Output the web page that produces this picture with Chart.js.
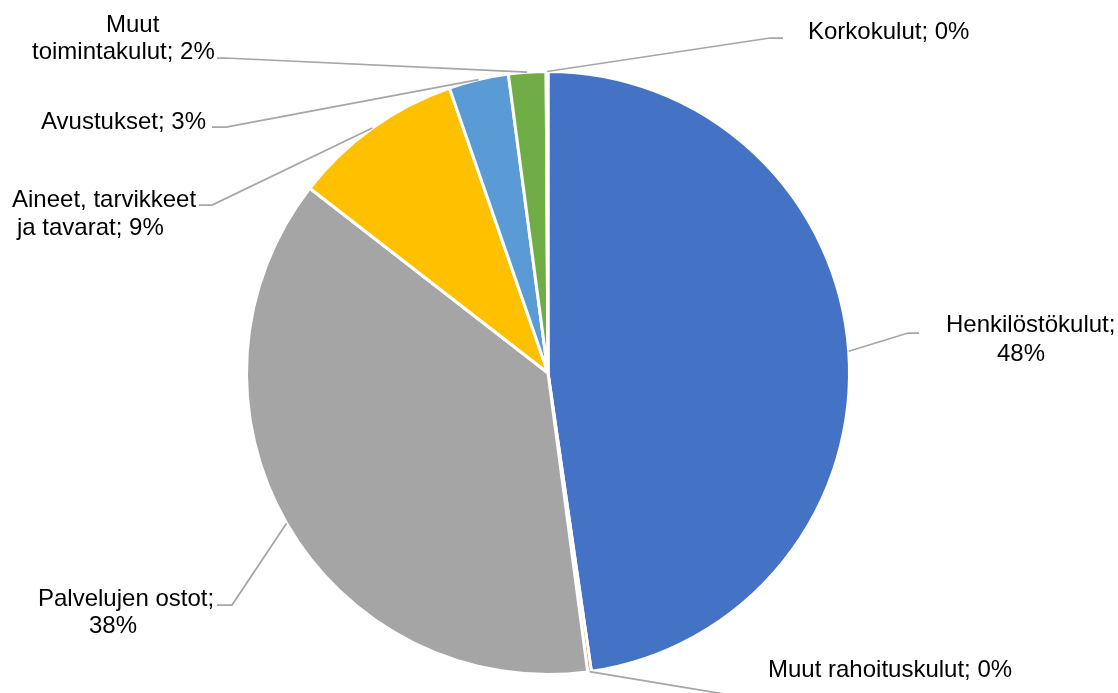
<!DOCTYPE html>
<html>
<head>
<meta charset="utf-8">
<script src="https://cdn.jsdelivr.net/npm/chart.js@4.4.0/dist/chart.umd.min.js"></script>
<style>
  body { margin: 0; background: #fff; }
</style>
</head>
<body>
<canvas id="mycanvas" width="1118" height="693"></canvas>
<script>
// kulut, osuus prosentteina
var categories = ["Henkilöstökulut", "Muut rahoituskulut", "Palvelujen ostot",
  "Aineet, tarvikkeet ja tavarat", "Avustukset", "Muut toimintakulut", "Korkokulut"];
var shares = [47.7, 0.2, 37.6, 9.2, 3.2, 2.0, 0.1];
var colors = ["#4472C4", "#ED7D31", "#A5A5A5", "#FFC000", "#5B9BD5", "#70AD47", "#264478"];

// label layout: words on first line, left x / baseline per line, leader elbow and end
var labelLayout = [
  { firstWords: 1, lines: [[946, 332], [997, 361]], elbow: [908, 333], end: [919, 333] },
  { firstWords: 0, lines: [[768, 677]], elbow: [760, 700], end: [775, 700] },
  { firstWords: 2, lines: [[38, 606], [89, 633]], elbow: [232, 605], end: [217, 605] },
  { firstWords: 2, lines: [[12, 207], [17, 235]], elbow: [212, 205], end: [199, 205] },
  { firstWords: 0, lines: [[41, 129]], elbow: [226, 127], end: [212, 127] },
  { firstWords: 1, lines: [[106, 32], [32, 59]], elbow: [225, 58], end: [217, 58] },
  { firstWords: 0, lines: [[808, 39]], elbow: [770, 38], end: [783, 38] }
];

var outsideLabels = {
  id: "outsideLabels",
  afterDatasetsDraw: function(chart) {
    var ctx = chart.ctx;
    var meta = chart.getDatasetMeta(0);
    var data = chart.data.datasets[0].data;
    var total = data.reduce(function(a, b) { return a + b; }, 0);
    ctx.save();
    ctx.font = "24px 'Liberation Sans', Arial, sans-serif";
    ctx.fillStyle = "#000";
    ctx.textAlign = "left";
    ctx.textBaseline = "alphabetic";
    ctx.strokeStyle = "#A6A6A6";
    ctx.lineWidth = 1.75;
    meta.data.forEach(function(arc, i) {
      var p = arc.getProps(["x", "y", "startAngle", "endAngle", "outerRadius"], true);
      var mid = (p.startAngle + p.endAngle) / 2;
      var sx = p.x + Math.cos(mid) * p.outerRadius;
      var sy = p.y + Math.sin(mid) * p.outerRadius;
      var lay = labelLayout[i];
      ctx.beginPath();
      ctx.moveTo(sx, sy);
      ctx.lineTo(lay.elbow[0], lay.elbow[1]);
      ctx.lineTo(lay.end[0], lay.end[1]);
      ctx.stroke();

      var text = chart.data.labels[i] + "; " + Math.round(data[i] / total * 100) + "%";
      var lines = [text];
      if (lay.firstWords > 0) {
        var words = text.split(" ");
        lines = [words.slice(0, lay.firstWords).join(" "), words.slice(lay.firstWords).join(" ")];
      }
      lines.forEach(function(line, j) {
        ctx.fillText(line, lay.lines[j][0], lay.lines[j][1]);
      });
    });
    ctx.restore();
  }
};

var ctx = document.getElementById("mycanvas");
var pieChart = new Chart(ctx, {
  type: "pie",
  data: {
    labels: categories,
    datasets: [{
      data: shares,
      backgroundColor: colors,
      borderColor: "#ffffff",
      borderWidth: 3
    }]
  },
  options: {
    responsive: false,
    animation: false,
    layout: { padding: { left: 245, right: 267, top: 70, bottom: 17 } },
    plugins: {
      legend: { display: false },
      tooltip: { enabled: false }
    }
  },
  plugins: [outsideLabels]
});
</script>
</body>
</html>
